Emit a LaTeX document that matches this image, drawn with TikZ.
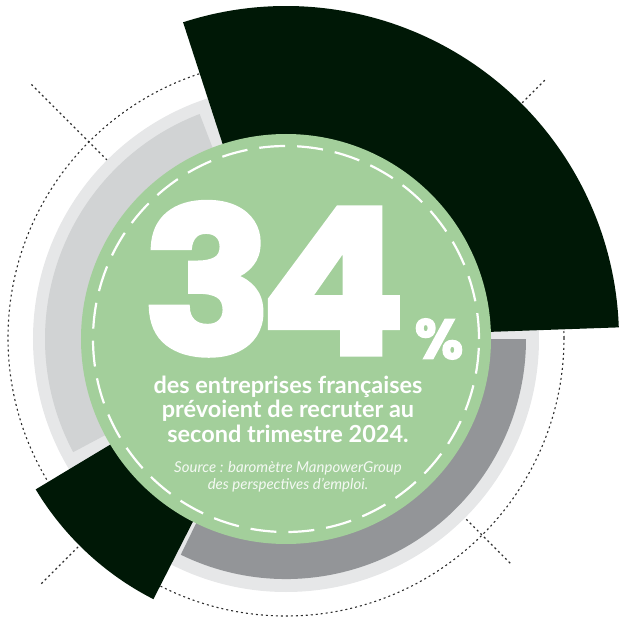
\documentclass[tikz,border=0pt]{standalone}
\usepackage{fontspec}
\setmainfont{Lato}
\newfontfamily\numfont{Poppins}[BoldFeatures={FakeBold=2.5}]
\definecolor{mydark}{RGB}{0,24,6}
\definecolor{mygreen}{RGB}{163,207,155}
\definecolor{mylight}{RGB}{230,231,232}
\definecolor{mymid}{RGB}{209,211,212}
\definecolor{mygray}{RGB}{147,149,152}
\definecolor{mydots}{RGB}{45,45,45}

\begin{document}
\begin{tikzpicture}[x=1pt,y=1pt]
	\tikzstyle{dots}=[mydots,line width=1.1pt,dash pattern=on 2pt off 3pt];
	\tikzstyle{txt}=[white,inner sep=0pt,anchor=base];
	\tikzstyle{src}=[white!88!mygreen,inner sep=0pt,anchor=base,font=\fontsize{15}{17}\selectfont\itshape];
	\useasboundingbox (-286,-288) rectangle (334,339);
	%% Crosses
	\draw[dots] (135:360) -- (-45:318);
	\draw[dots] (45:366) -- (225:346);
	%% Dotted circle
	\draw[dots] (0,1) circle (278);
	%% Rings
	\fill[mylight] (0,0) circle (253);
	\fill[mymid] (0,0) -- (111:241) arc (111:208:241) -- cycle;
	\fill[mygray] (0,0) -- (244:240) arc (244:360:240) -- cycle;
	%% Dark sectors
	\fill[mydark] (0,0) -- (2:333) arc (2:108:333) -- cycle;
	\fill[mydark] (0,0) -- (211:292) arc (211:243:292) -- cycle;
	%% Green disc
	\fill[mygreen] (0,0) circle (205);
	\draw[white,line width=2.2pt,dash pattern=on 26pt off 12pt] (0,0) circle (193);
	%% Texts
	\node[txt] (num) at (-12,-15) {\scalebox{1.06}[1]{\numfont\bfseries\fontsize{203}{203}\selectfont 3\kern-12pt 4}};
	\node[white,inner sep=0pt] (pct) at (153,0) {\numfont\bfseries\fontsize{56}{56}\selectfont\%};
	\node[txt,font=\fontsize{23.5}{24.5}\selectfont\bfseries,align=center] (body) at (2,-103) {des entreprises françaises\\prévoient de recruter au\\second trimestre 2024.};
	\node[src,align=center] (source) at (2,-150) {Source : baromètre ManpowerGroup\\des perspectives d’emploi.};
\end{tikzpicture}
\end{document}
